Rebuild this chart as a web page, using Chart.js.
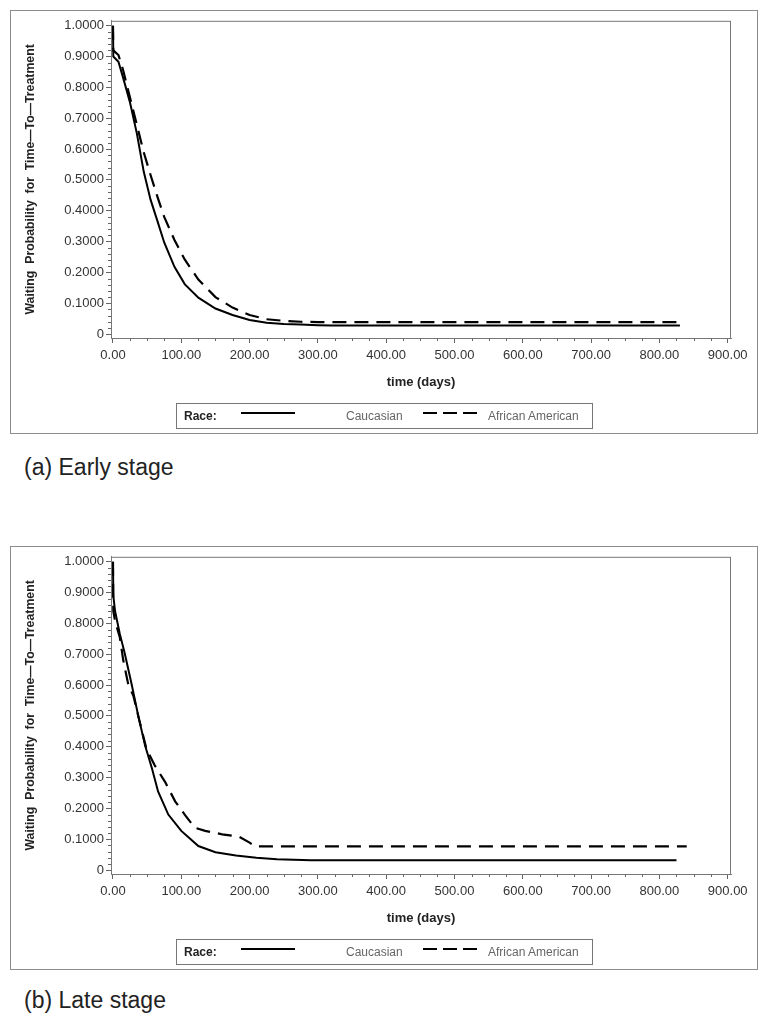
<!DOCTYPE html>
<html>
<head>
<meta charset="utf-8">
<script src="https://cdn.jsdelivr.net/npm/chart.js@4.4.0/dist/chart.umd.min.js"></script>
<style>
body { margin: 0; background: #fff; font-family: 'Liberation Sans', Arial, sans-serif; }
.panel { position: absolute; left: 10px; width: 746px; height: 422px; border: 1px solid #8c8c8c; }
.panel canvas { position: absolute; left: 0; top: 0; }
.legend { position: absolute; left: 165px; top: 392px; width: 417px; height: 26px; box-sizing: border-box; border: 1px solid #777; font-size: 12px; }
.legend span { position: absolute; top: 6px; line-height: 13px; white-space: nowrap; }
.legend .race { left: 7px; font-weight: bold; color: #222; }
.legend .lab { color: #666; }
.legend svg { position: absolute; top: 7px; }
.caption { position: absolute; left: 24px; font-size: 23px; color: #222; line-height: 26px; }
</style>
</head>
<body>

<div class="panel" style="top:10px">
  <canvas id="early" width="746" height="422"></canvas>
  <div class="legend">
    <span class="race">Race:</span>
    <svg style="left:64px" width="54" height="4"><line x1="0" y1="2" x2="54" y2="2" stroke="#000" stroke-width="2"/></svg>
    <span class="lab" style="left:169px">Caucasian</span>
    <svg style="left:246px" width="54" height="4"><line x1="0" y1="2" x2="54" y2="2" stroke="#000" stroke-width="2" stroke-dasharray="14 6"/></svg>
    <span class="lab" style="left:311px">African American</span>
  </div>
</div>
<div class="caption" style="top:454px">(a) Early stage</div>

<div class="panel" style="top:546px">
  <canvas id="late" width="746" height="422"></canvas>
  <div class="legend">
    <span class="race">Race:</span>
    <svg style="left:64px" width="54" height="4"><line x1="0" y1="2" x2="54" y2="2" stroke="#000" stroke-width="2"/></svg>
    <span class="lab" style="left:169px">Caucasian</span>
    <svg style="left:246px" width="54" height="4"><line x1="0" y1="2" x2="54" y2="2" stroke="#000" stroke-width="2" stroke-dasharray="14 6"/></svg>
    <span class="lab" style="left:311px">African American</span>
  </div>
</div>
<div class="caption" style="top:987px">(b) Late stage</div>

<script>
// ticks
const xTicks = [0, 100, 200, 300, 400, 500, 600, 700, 800, 900];
const yTicks = [0, 0.1, 0.2, 0.3, 0.4, 0.5, 0.6, 0.7, 0.8, 0.9, 1.0];

// early stage
const earlyCaucTime = [0, 0.5, 8, 15, 25, 35, 45, 55, 65, 75, 90, 105, 125, 150, 175, 200, 225, 250, 275, 300, 320, 830];
const earlyCaucProb = [1.0, 0.90, 0.883, 0.83, 0.75, 0.65, 0.527, 0.436, 0.367, 0.297, 0.218, 0.162, 0.118, 0.083, 0.062, 0.046, 0.037, 0.033, 0.031, 0.029, 0.028, 0.028];
const earlyAfrTime = [0, 0.5, 8, 15, 25, 35, 45, 55, 65, 75, 90, 105, 125, 150, 175, 200, 225, 250, 275, 300, 320, 827];
const earlyAfrProb = [1.0, 0.92, 0.905, 0.855, 0.766, 0.678, 0.59, 0.516, 0.446, 0.38, 0.305, 0.242, 0.177, 0.12, 0.086, 0.062, 0.048, 0.043, 0.04, 0.039, 0.039, 0.039];

// late stage
const lateCaucTime = [0, 0.5, 3, 10, 17, 27, 37, 47, 57, 66, 81, 100, 125, 150, 180, 210, 240, 290, 825];
const lateCaucProb = [1.0, 0.89, 0.84, 0.766, 0.705, 0.606, 0.50, 0.404, 0.33, 0.255, 0.18, 0.127, 0.078, 0.058, 0.047, 0.04, 0.035, 0.032, 0.032];
const lateAfrTime = [0, 0.5, 3, 10, 15, 22, 30, 37, 49, 61, 76, 91, 105, 120, 135, 160, 185, 200, 208, 840];
const lateAfrProb = [1.0, 0.84, 0.808, 0.755, 0.681, 0.606, 0.564, 0.50, 0.393, 0.34, 0.287, 0.223, 0.18, 0.137, 0.127, 0.116, 0.108, 0.089, 0.077, 0.077];

const font = "'Liberation Sans', Arial, sans-serif";

function toPoints(t, p) {
  return t.map((v, i) => ({ x: v, y: p[i] }));
}

// plot frame + minor ticks
const framePlugin = {
  id: 'frame',
  afterDraw(chart) {
    const ctx = chart.ctx;
    const a = chart.chartArea;
    const xs = chart.scales.x, ys = chart.scales.y;
    ctx.save();
    ctx.strokeStyle = '#777';
    ctx.lineWidth = 1;
    ctx.strokeRect(a.left + 0.5, a.top + 0.5, a.right - a.left - 1, a.bottom - a.top);
    ctx.strokeStyle = '#666';
    ctx.beginPath();
    for (let v = 25; v < 900; v += 25) {
      if (v % 100 === 0) continue;
      const px = Math.round(xs.getPixelForValue(v)) + 0.5;
      ctx.moveTo(px, a.bottom);
      ctx.lineTo(px, a.bottom + 3);
    }
    for (let k = 1; k < 50; k++) {
      if (k % 5 === 0) continue;
      const py = Math.round(ys.getPixelForValue(k * 0.02)) + 0.5;
      ctx.moveTo(a.left, py);
      ctx.lineTo(a.left - 3, py);
    }
    ctx.stroke();
    ctx.restore();
  }
};

function makePanel(id, caucTime, caucProb, afrTime, afrProb) {
  return new Chart(document.getElementById(id), {
    type: 'scatter',
    data: {
      datasets: [{
        label: 'Caucasian',
        data: toPoints(caucTime, caucProb),
        showLine: true,
        borderColor: '#000',
        borderWidth: 2,
        pointRadius: 0,
        tension: 0
      }, {
        label: 'African American',
        data: toPoints(afrTime, afrProb),
        showLine: true,
        borderColor: '#000',
        borderWidth: 2.2,
        borderDash: [14, 8],
        pointRadius: 0,
        tension: 0
      }]
    },
    options: {
      responsive: false,
      animation: false,
      layout: { padding: { top: 4, right: 26, bottom: 41, left: 0 } },
      plugins: { legend: { display: false }, tooltip: { enabled: false } },
      scales: {
        x: {
          type: 'linear',
          min: -2.9,
          max: 904.8,
          afterBuildTicks: s => { s.ticks = xTicks.map(v => ({ value: v })); },
          afterFit: s => { s.height = 54; },
          grid: { drawOnChartArea: false, tickLength: 5, tickColor: '#666' },
          border: { color: '#777' },
          ticks: {
            color: '#333', autoSkip: false, maxRotation: 0, padding: 5,
            font: { family: font, size: 13 },
            callback: v => v.toFixed(2)
          },
          title: {
            display: true, text: 'time (days)', color: '#222',
            font: { family: font, size: 13, weight: 'bold' },
            padding: { top: 0, bottom: 2 }
          }
        },
        y: {
          type: 'linear',
          min: -0.0127,
          max: 1.016,
          afterBuildTicks: s => { s.ticks = yTicks.map(v => ({ value: v })); },
          afterFit: s => { s.width = 100; },
          grid: { drawOnChartArea: false, tickLength: 5, tickColor: '#666' },
          border: { color: '#777' },
          ticks: {
            color: '#333', autoSkip: false, padding: 2,
            font: { family: font, size: 13 },
            callback: v => v === 0 ? '0' : v.toFixed(4)
          },
          title: {
            display: true, text: 'Waiting  Probability  for  Time—To—Treatment', color: '#222',
            font: { family: font, size: 12.3, weight: 'bold' },
            padding: { top: 12, bottom: 0 }
          }
        }
      }
    },
    plugins: [framePlugin]
  });
}

makePanel('early', earlyCaucTime, earlyCaucProb, earlyAfrTime, earlyAfrProb);
makePanel('late', lateCaucTime, lateCaucProb, lateAfrTime, lateAfrProb);
</script>
</body>
</html>
